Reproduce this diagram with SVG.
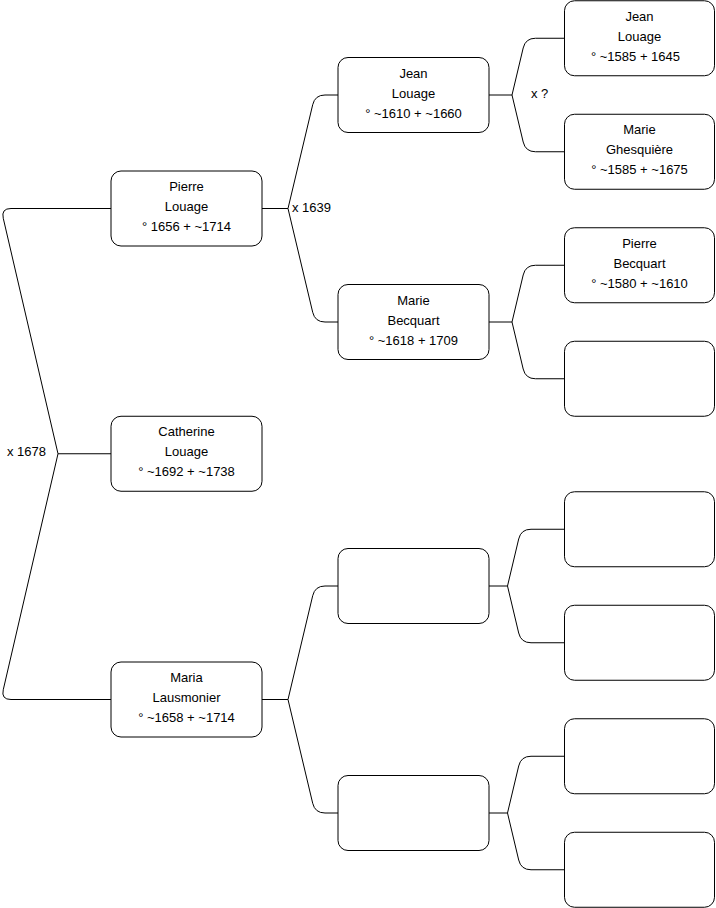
<svg xmlns="http://www.w3.org/2000/svg" width="716" height="908" viewBox="0 0 716 908">
<style>
.box{fill:#fff;stroke:#000;stroke-width:1}
.edge{fill:none;stroke:#000;stroke-width:1}
text{font-family:"Liberation Sans",Arial,Helvetica,sans-serif;font-size:13px;fill:#000}
.c{text-anchor:middle}
</style>
<rect width="716" height="908" fill="#fff"/>
<g id="connectors">
<path class="edge" d="M58,453.75 L3.26,218.24 Q1,208.5 11,208.5 L111,208.5"/>
<path class="edge" d="M58,453.75 L111,453.75"/>
<path class="edge" d="M58,453.75 L3.26,689.76 Q1,699.5 11,699.5 L111,699.5"/>
<path class="edge" d="M262,208.5 L288,208.5 L312.69,104.73 Q315,95 325,95 L338,95"/>
<path class="edge" d="M288,208.5 L312.69,312.27 Q315,322 325,322 L338,322"/>
<path class="edge" d="M262,699.5 L288,699.5 L312.69,595.73 Q315,586 325,586 L338,586"/>
<path class="edge" d="M288,699.5 L312.69,803.27 Q315,813 325,813 L338,813"/>
<path class="edge" d="M489,95 L512,95 L523.19,47.98 Q525.5,38.25 535.5,38.25 L564.5,38.25"/>
<path class="edge" d="M512,95 L523.19,142.02 Q525.5,151.75 535.5,151.75 L564.5,151.75"/>
<path class="edge" d="M489,322 L512,322 L523.19,274.98 Q525.5,265.25 535.5,265.25 L564.5,265.25"/>
<path class="edge" d="M512,322 L523.19,369.02 Q525.5,378.75 535.5,378.75 L564.5,378.75"/>
<path class="edge" d="M489,586 L507.5,586 L518.69,538.98 Q521,529.25 531,529.25 L564.5,529.25"/>
<path class="edge" d="M507.5,586 L518.69,633.02 Q521,642.75 531,642.75 L564.5,642.75"/>
<path class="edge" d="M489,813 L507.5,813 L518.69,765.98 Q521,756.25 531,756.25 L564.5,756.25"/>
<path class="edge" d="M507.5,813 L518.69,860.02 Q521,869.75 531,869.75 L564.5,869.75"/>
<text x="7" y="455.5">x 1678</text>
<text x="292" y="212">x 1639</text>
<text x="531" y="97.5">x ?</text>
</g>
<g id="pierre-louage">
<rect class="box" x="111" y="171" width="151" height="75" rx="10"/>
<text class="c" x="186.5" y="191">Pierre</text>
<text class="c" x="186.5" y="211">Louage</text>
<text class="c" x="186.5" y="231">° 1656 + ~1714</text>
</g>
<g id="catherine-louage">
<rect class="box" x="111" y="416.25" width="151" height="75" rx="10"/>
<text class="c" x="186.5" y="436.25">Catherine</text>
<text class="c" x="186.5" y="456.25">Louage</text>
<text class="c" x="186.5" y="476.25">° ~1692 + ~1738</text>
</g>
<g id="maria-lausmonier">
<rect class="box" x="111" y="662" width="151" height="75" rx="10"/>
<text class="c" x="186.5" y="682">Maria</text>
<text class="c" x="186.5" y="702">Lausmonier</text>
<text class="c" x="186.5" y="722">° ~1658 + ~1714</text>
</g>
<g id="jean-louage-1610">
<rect class="box" x="338" y="57.5" width="151" height="75" rx="10"/>
<text class="c" x="413.5" y="77.5">Jean</text>
<text class="c" x="413.5" y="97.5">Louage</text>
<text class="c" x="413.5" y="117.5">° ~1610 + ~1660</text>
</g>
<g id="marie-becquart">
<rect class="box" x="338" y="284.5" width="151" height="75" rx="10"/>
<text class="c" x="413.5" y="304.5">Marie</text>
<text class="c" x="413.5" y="324.5">Becquart</text>
<text class="c" x="413.5" y="344.5">° ~1618 + 1709</text>
</g>
<g id="empty-g2-a">
<rect class="box" x="338" y="548.5" width="151" height="75" rx="10"/>
</g>
<g id="empty-g2-b">
<rect class="box" x="338" y="775.5" width="151" height="75" rx="10"/>
</g>
<g id="jean-louage-1585">
<rect class="box" x="564.5" y="0.75" width="150" height="75" rx="10"/>
<text class="c" x="639.5" y="20.75">Jean</text>
<text class="c" x="639.5" y="40.75">Louage</text>
<text class="c" x="635.5" y="60.75">° ~1585 + 1645</text>
</g>
<g id="marie-ghesquiere">
<rect class="box" x="564.5" y="114.25" width="150" height="75" rx="10"/>
<text class="c" x="639.5" y="134.25">Marie</text>
<text class="c" x="639.5" y="154.25">Ghesquière</text>
<text class="c" x="639.5" y="174.25">° ~1585 + ~1675</text>
</g>
<g id="pierre-becquart">
<rect class="box" x="564.5" y="227.75" width="150" height="75" rx="10"/>
<text class="c" x="639.5" y="247.75">Pierre</text>
<text class="c" x="639.5" y="267.75">Becquart</text>
<text class="c" x="639.5" y="287.75">° ~1580 + ~1610</text>
</g>
<g id="empty-g3-a"><rect class="box" x="564.5" y="341.25" width="150" height="75" rx="10"/></g>
<g id="empty-g3-b"><rect class="box" x="564.5" y="491.75" width="150" height="75" rx="10"/></g>
<g id="empty-g3-c"><rect class="box" x="564.5" y="605.25" width="150" height="75" rx="10"/></g>
<g id="empty-g3-d"><rect class="box" x="564.5" y="718.75" width="150" height="75" rx="10"/></g>
<g id="empty-g3-e"><rect class="box" x="564.5" y="832.25" width="150" height="75" rx="10"/></g>
</svg>
